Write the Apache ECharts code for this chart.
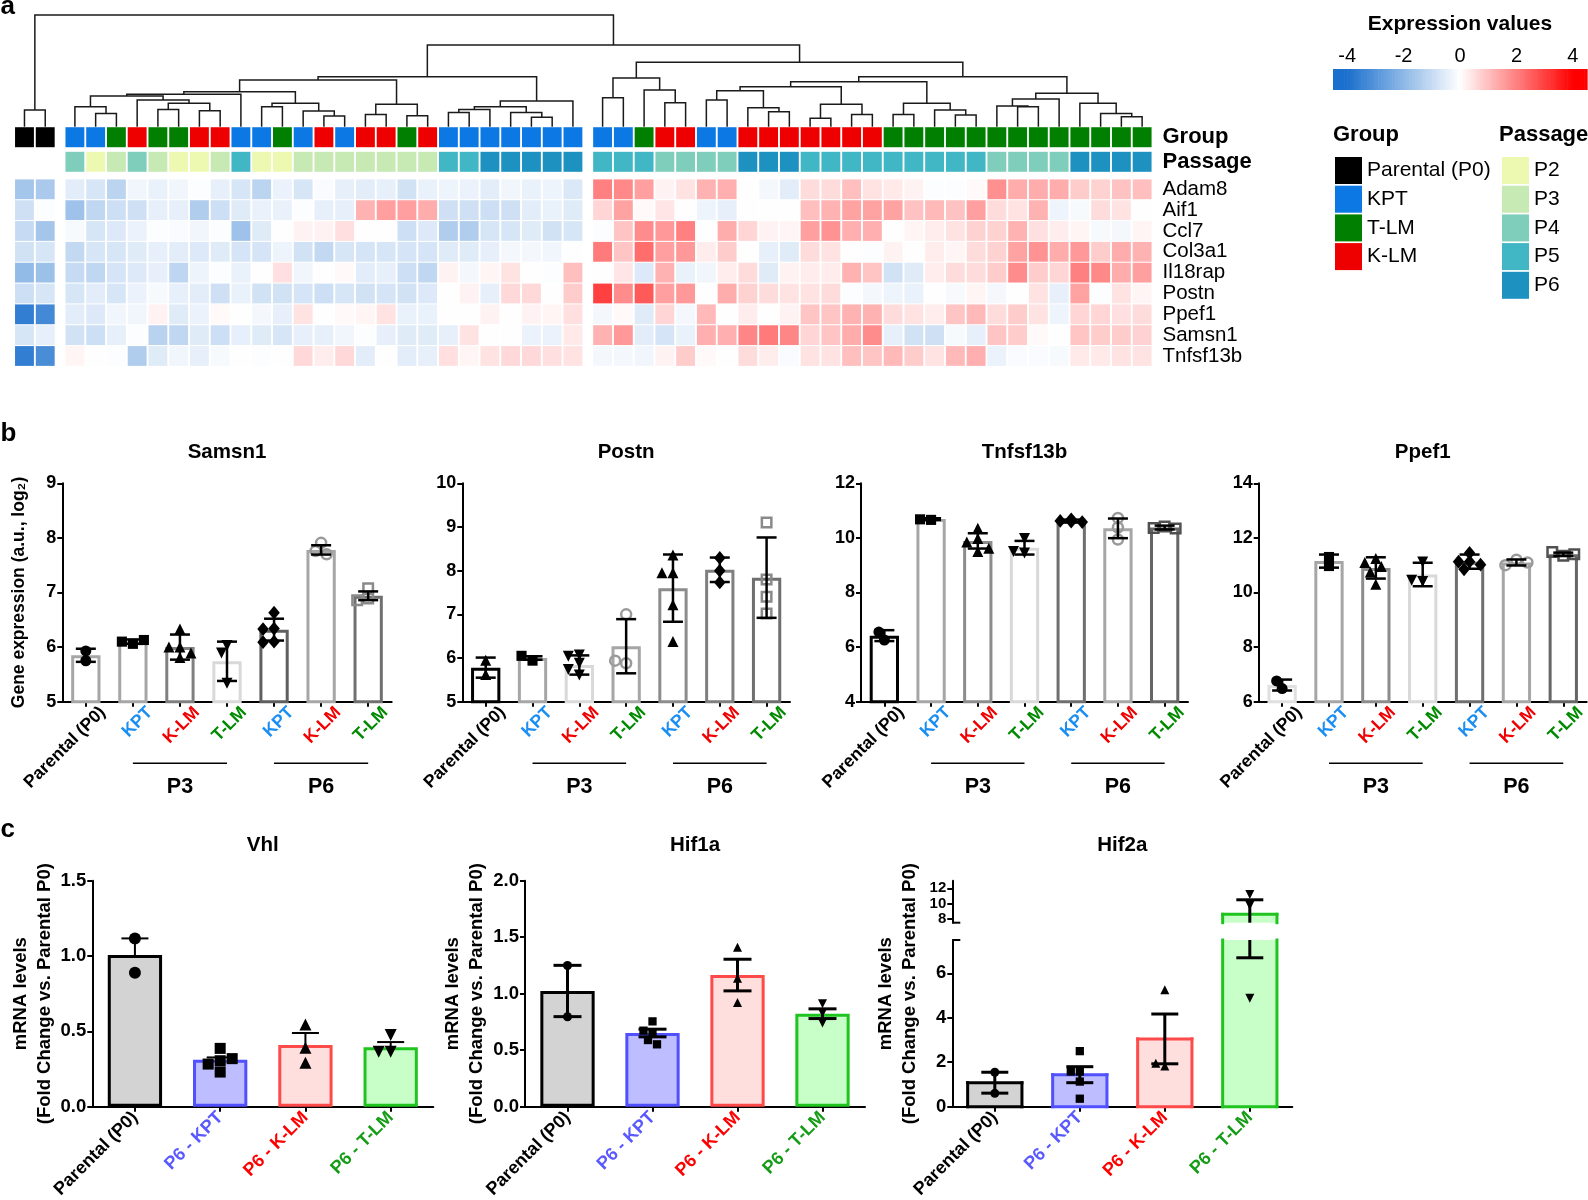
<!DOCTYPE html>
<html>
<head>
<meta charset="utf-8">
<title>Figure</title>
<script src="https://cdn.jsdelivr.net/npm/echarts@6.0.0/dist/echarts.min.js"></script>
<style>
html,body{margin:0;padding:0;background:#fff;}
#chart{width:1588px;height:1200px;}
</style>
</head>
<body>
<div id="chart"></div>
<script>
// ================= DATA =================
// ---- panel a : heatmap ----
const genes = ['Adam8','Aif1','Ccl7','Col3a1','Il18rap','Postn','Ppef1','Samsn1','Tnfsf13b'];
const groupCodes = ['P0','KPT','TLM','KLM'];
const groupNames = ['Parental (P0)','KPT','T-LM','K-LM'];
const passageNames = ['P2','P3','P4','P5','P6'];
const colGroup = ['P0','P0',
 'KPT','KPT','TLM','KLM','TLM','TLM','KLM','KLM','KPT','KPT','TLM','KPT','KLM','KPT','KLM','KLM','TLM','KLM','KPT','KPT','KPT','KPT','KPT','KPT','KPT',
 'KPT','KPT','TLM','KLM','KLM','KPT','KPT','KLM','KLM','KLM','KLM','KLM','KLM','KLM',
 'TLM','TLM','TLM','TLM','TLM','TLM','TLM','TLM','TLM','TLM','TLM','TLM','TLM'];
const colPassage = ['','',
 'P4','P2','P3','P4','P3','P2','P2','P3','P5','P2','P2','P3','P3','P3','P3','P3','P3','P3','P5','P5','P6','P6','P6','P6','P6',
 'P5','P5','P5','P4','P4','P4','P4','P6','P6','P6','P5','P5','P5','P5','P5','P5','P5','P5','P5','P4','P4','P4','P4','P6','P6','P6','P6'];
const exprAdam8 = [-1.6,-1.5,
 -0.5,-0.7,-1.2,-0.25,-0.4,-0.25,-0.05,-0.45,-0.7,-1.2,-0.35,-0.7,-0.1,-0.45,-0.5,-0.45,-0.8,-0.4,-0.3,-0.35,-0.5,-0.25,-0.4,-0.3,-0.65,
 2.0,1.85,1.5,0.2,0.45,1.2,1.25,0.02,-0.2,-0.5,0.55,0.55,1.0,0.45,0.35,0.2,-0.05,-0.05,0.1,1.75,1.3,1.3,1.3,0.8,0.7,0.95,1.0];
const exprAif1 = [-0.85,-0.05,
 -1.7,-1.1,-0.9,-0.85,-0.45,-0.45,-1.4,-0.9,-0.55,-0.4,-0.4,-0.05,-0.45,-0.45,1.2,1.5,1.5,1.3,-0.85,-0.85,-0.9,-0.85,-0.5,-0.4,-0.55,
 0.65,1.45,0.1,0.4,0.02,-0.3,-0.45,-0.02,-0.02,-0.02,1.0,1.2,1.45,1.45,1.45,0.95,1.1,0.95,1.5,0.55,0.45,1.2,-0.3,-0.15,0.55,0.45,-0.02];
const exprCcl7 = [-1.0,-1.6,
 -0.15,-0.7,-0.6,-0.35,-0.05,-0.1,-0.25,-0.05,-1.7,-0.55,0.02,0.2,0.2,0.5,0.02,0.02,-0.9,-0.6,-1.4,-1.4,-0.7,-0.7,-0.55,-0.8,-0.7,
 -0.05,0.9,1.8,1.6,2.0,0.02,1.3,0.65,0.2,0.15,1.5,1.7,1.25,1.25,0.02,0.15,0.3,0.45,0.7,0.7,1.2,0.5,0.3,0.15,-0.15,-0.2,0.15];
const exprCol3a1 = [-0.8,-0.7,
 -1.05,-0.7,-0.7,-0.55,-0.45,-0.5,-0.6,-0.55,-0.75,-0.75,-0.3,-0.8,-1.05,-0.7,-0.75,-0.7,-0.75,-0.75,-0.55,-0.55,-0.45,-0.2,-0.2,-0.25,0.02,
 2.1,0.9,2.3,1.5,1.6,0.3,0.8,-0.02,-0.45,-0.55,0.55,0.45,-0.02,-0.05,0.2,0.02,0.3,0.15,0.55,0.7,1.45,1.7,1.3,1.6,0.8,1.3,1.2];
const exprIl18rap = [-1.9,-1.75,
 -1.0,-1.1,-0.75,-0.6,-0.45,-1.15,-0.3,-0.05,-0.4,0.02,0.5,-0.25,0.02,0.1,-0.5,-0.45,-0.9,-1.1,0.2,-0.2,0.15,0.45,0.02,-0.05,1.0,
 -0.02,0.4,-0.6,1.2,-0.4,-0.25,0.3,0.55,-0.55,0.2,0.3,0.3,1.2,0.9,-0.8,-0.55,0.3,0.55,0.55,0.8,1.8,0.8,0.65,2.0,1.85,1.3,1.5];
const exprPostn = [-0.9,-0.7,
 -0.7,-0.5,-0.7,-0.35,-0.15,-0.45,-0.5,-0.85,-0.4,-0.8,-0.8,-0.75,-0.9,-0.7,-0.8,-0.75,-0.8,-0.6,0.02,0.2,-0.45,0.6,0.6,0.02,0.8,
 3.0,1.8,2.6,1.5,1.6,0.02,1.3,0.7,0.55,0.45,0.45,0.55,-0.05,-0.2,-0.3,-0.4,0.02,-0.15,0.15,-0.2,0.02,0.45,-0.45,1.45,-0.05,0.45,0.15];
const exprPpef1 = [-3.6,-3.3,
 -0.5,-0.6,-0.25,-0.25,0.2,-0.55,-0.35,0.1,0.02,-0.2,-0.45,0.45,-0.02,0.1,0.15,0.45,-0.4,-0.4,-0.02,-0.02,0.2,-0.02,0.2,0.15,0.5,
 -0.2,0.1,-0.55,0.65,-0.2,1.1,0.02,0.3,0.02,0.2,0.9,0.9,1.2,1.2,0.55,0.45,0.3,0.9,1.1,0.55,0.8,0.45,-0.3,0.65,0.65,0.5,0.55];
const exprSamsn1 = [-0.7,-0.45,
 -0.8,-0.9,-0.45,-0.05,-1.25,-1.1,-0.55,-0.9,-0.45,-0.55,-0.7,-0.45,-0.45,-0.25,-0.05,-0.45,-0.55,-0.55,-0.45,0.45,-0.02,-0.02,-0.35,-0.35,0.35,
 1.2,1.6,-0.5,-0.75,-0.4,1.25,1.25,1.9,2.1,1.9,0.65,0.9,1.3,1.8,-0.45,-0.8,-0.85,-0.15,-0.45,0.9,0.8,0.1,-0.02,0.9,0.8,0.8,0.7];
const exprTnfsf13b = [-3.6,-3.2,
 0.15,-0.02,-0.05,-1.4,-0.55,-0.25,-0.45,-0.15,-0.02,-0.05,0.02,0.6,0.3,0.6,-0.5,-0.02,-0.5,-0.45,0.5,0.15,0.45,0.6,0.6,0.5,0.45,
 -0.2,-0.2,-0.25,0.2,0.8,0.1,0.02,0.55,0.3,-0.1,0.45,0.45,1.0,0.9,1.1,0.8,0.45,1.1,1.25,-0.35,-0.1,-0.1,-0.15,0.35,0.35,0.45,0.45];
const exprRows = [exprAdam8,exprAif1,exprCcl7,exprCol3a1,exprIl18rap,exprPostn,exprPpef1,exprSamsn1,exprTnfsf13b];
// dendrogram: [mergeHeight, left, right]; leaves = column index
const dendroTree = [10.0, [1.49,0,1], [7.31,
  [4.48,
    [4.18,
      [3.13,
        [2.90, [2.75, [1.79,2,[1.19,3,4]], [2.39,5,[2.09,[1.55,6,7],[1.43,8,9]]]], 10],
        [2.09, [1.79,11,12], [1.40,13,[0.96,14,15]]]],
      [2.00, [1.10,16,17], [0.99,18,19]]],
    [2.30, [1.79, [1.55,[1.28,20,21],22], [1.28,23,[0.84,24,25]]], 26]],
  [5.76,
    [4.36, [2.60,27,28], [3.28,29,[2.15,30,31]]],
    [4.48,
      [4.03,
        [3.58, [3.22,[2.39,32,33],[1.70,34,[1.34,35,36]]], [2.00,[0.75,37,38],[1.10,39,40]]],
        [2.09, [1.10,41,42], [1.49,43,[1.04,44,45]]]],
      [2.99,
        [2.48, [1.85,46,[1.79,47,48]], 49],
        [2.09, 50, [1.19,51,[0.90,52,53]]]]]]]];
const colorbarTicks = [-4,-2,0,2,4];

// ---- panel b ----
const bCategories = ['P0','KPT3','KLM3','TLM3','KPT6','KLM6','TLM6'];
const bCategoryLabels = ['Parental (P0)','KPT','K-LM','T-LM','KPT','K-LM','T-LM'];
const bBrackets = [[1,3,'P3'],[4,6,'P6']];
const samsn1Mean = [5.85,6.10,6.00,5.74,6.32,7.78,6.94];
const samsn1Err  = [0.12,0.04,0.23,0.36,0.20,0.085,0.08];
const samsn1Points = [[5.75,5.93],[6.06,6.10,6.13],[6.33,6.00,6.00,5.89,5.81],[6.03,5.89,5.34],[6.63,6.34,6.33,6.10,6.09],[7.91,7.76,7.70],[6.89,6.86,7.08]];
const postnMean = [5.78,6.00,5.84,6.27,7.60,8.02,7.84];
const postnErr  = [0.23,0.04,0.22,0.62,0.77,0.28,0.92];
const postnPoints = [[5.95,5.62],[5.94,6.05],[6.07,6.04,5.88,5.74,5.61],[7.00,5.88,5.94],[8.36,7.95,7.95,7.22,6.38],[8.29,8.00,7.73],[9.10,7.80,7.40,7.02]];
const tnfsf13bMean = [6.42,10.69,9.89,9.64,10.62,10.35,10.38];
const tnfsf13bErr  = [0.20,0.03,0.28,0.25,0.05,0.36,0.07];
const tnfsf13bPoints = [[6.26,6.55],[10.66,10.68],[10.35,9.98,9.85,9.50,9.62],[9.98,9.45,9.50],[10.68,10.62,10.58,10.65,10.60],[10.73,10.38,9.94],[10.42,10.36,10.34]];
const ppef1Mean = [6.61,11.15,10.90,10.66,11.13,11.10,11.40];
const ppef1Err  = [0.20,0.24,0.39,0.43,0.26,0.11,0.06];
const ppef1Points = [[6.48,6.76],[10.97,11.30],[11.25,11.10,10.95,10.75,10.30],[11.12,10.40,10.45],[11.45,11.13,11.13,10.85,11.02],[11.20,11.00,11.10],[11.35,11.48,11.40]];

// ---- panel c ----
const cCategories = ['P0','KPT','KLM','TLM'];
const cCategoryLabels = ['Parental (P0)','P6 - KPT','P6 - K-LM','P6 - T-LM'];
const vhlMean = [1.007,0.312,0.409,0.394];
const vhlErr  = [0.110,0.015,0.080,0.035];
const vhlPoints = [[1.117,0.889],[0.305,0.387,0.230,0.283,0.319],[0.546,0.392,0.292],[0.476,0.365,0.365]];
const hif1aMean = [1.024,0.652,1.165,0.823];
const hif1aErr  = [0.227,0.034,0.140,0.043];
const hif1aPoints = [[1.25,0.796],[0.755,0.649,0.673,0.590,0.552],[1.41,1.136,0.923],[0.91,0.74,0.83]];
const hif2aMean = [1.08,1.44,3.05,8.60];
const hif2aErr  = [0.47,0.36,1.12,1.90];
const hif2aPoints = [[1.55,0.60],[2.50,1.58,1.58,1.13,0.36],[5.26,1.83,1.95],[11.18,9.74,4.88]];
const hif2aBreak = 7.5;

// ================= LAYOUT / STYLE =================
const FONT = "'Liberation Sans', Arial, Helvetica, sans-serif";
const chart = echarts.init(document.getElementById('chart'), null, {renderer:'canvas', width:1588, height:1200});
const option = {animation:false, backgroundColor:'#ffffff', textStyle:{fontFamily:FONT, color:'#000'},
  grid:[], xAxis:[], yAxis:[], series:[], legend:[], visualMap:[]};
const graphics = [];
function txt(x, y, text, size, bold, align, color){
  graphics.push({type:'text', x:x, y:y, silent:true, z:10, style:{text:text, fontSize:size, fontWeight:bold?'bold':'normal',
    fontFamily:FONT, fill:color||'#000', textAlign:align||'center', textVerticalAlign:'middle'}});
}
function addGrid(g){ option.grid.push(Object.assign({outerBoundsMode:'none', containLabel:false, show:false}, g)); return option.grid.length-1; }
function addX(a){ option.xAxis.push(a); return option.xAxis.length-1; }
function addY(a){ option.yAxis.push(a); return option.yAxis.length-1; }

const groupColor = {P0:'#000000', KPT:'#0b78e3', TLM:'#007f00', KLM:'#ee0000'};
const passageColor = {P2:'#edf8b1', P3:'#c7e9b4', P4:'#7fcdbb', P5:'#41b6c4', P6:'#1d91c0'};

// ---------- panel a ----------
const GAP = 0.43;
const colPos = i => i + (i >= 2 ? GAP : 0) + (i >= 27 ? GAP : 0);
const X_MIN = -0.5, X_MAX = colPos(53) + 0.5;
const HM_LEFT = 14.1, HM_WIDTH = 1138.4;
const ROW_GROUP = -2.5, ROW_PASSAGE = -1.32;

const gDen = addGrid({left:HM_LEFT, top:15, width:HM_WIDTH, height:111.7});
const xDen = addX({type:'value', gridIndex:gDen, min:X_MIN, max:X_MAX, show:false});
const yDen = addY({type:'value', gridIndex:gDen, min:0, max:10, show:false});

const gHeat = addGrid({left:HM_LEFT, top:126.8, width:HM_WIDTH, height:239.6});
const xHeat = addX({type:'value', gridIndex:gHeat, min:X_MIN, max:X_MAX, show:false});
const heatLabelMap = {};
heatLabelMap[ROW_GROUP] = '{h|Group}';
heatLabelMap[ROW_PASSAGE] = '{h|Passage}';
genes.forEach((g,i)=>{ heatLabelMap[i] = '{g|' + g + '}'; });
const yHeat = addY({type:'value', gridIndex:gHeat, min:-3, max:8.5, inverse:true, position:'right',
  axisLine:{show:false}, axisTick:{show:false}, splitLine:{show:false},
  axisLabel:{show:true, margin:10, hideOverlap:false, customValues:[ROW_GROUP, ROW_PASSAGE].concat(genes.map((g,i)=>i)),
    formatter: v => heatLabelMap[v] || '',
    rich:{h:{fontSize:22, fontWeight:'bold', color:'#000', fontFamily:FONT}, g:{fontSize:20.5, color:'#000', fontFamily:FONT}}}});

function cellRender(wr, hr){
  return function(params, api){
    const c = api.coord([api.value(0), api.value(1)]);
    const s = api.size([1,1]);
    const w = s[0]*wr, h = s[1]*hr;
    return {type:'rect', shape:{x:c[0]-w/2, y:c[1]-h/2, width:w, height:h}, style:{fill:api.visual('color')}};
  };
}
const heatData = [];
exprRows.forEach((row, r) => row.forEach((v, i) => heatData.push([colPos(i), r, v])));
const heatSeriesIndex = option.series.length;
option.series.push({type:'custom', name:'expression', coordinateSystem:'cartesian2d', xAxisIndex:xHeat, yAxisIndex:yHeat,
  silent:true, encode:{x:0, y:1}, data:heatData, renderItem:cellRender(0.91,0.95)});

groupCodes.forEach((code, k) => {
  const data = [];
  colGroup.forEach((g, i) => { if (g === code) data.push([colPos(i), ROW_GROUP]); });
  option.series.push({type:'custom', name:groupNames[k], coordinateSystem:'cartesian2d', xAxisIndex:xHeat, yAxisIndex:yHeat,
    silent:true, encode:{x:0, y:1}, itemStyle:{color:groupColor[code]}, data:data, renderItem:cellRender(0.91,0.96)});
});
passageNames.forEach(p => {
  const data = [];
  colPassage.forEach((q, i) => { if (q === p) data.push([colPos(i), ROW_PASSAGE]); });
  option.series.push({type:'custom', name:p, coordinateSystem:'cartesian2d', xAxisIndex:xHeat, yAxisIndex:yHeat,
    silent:true, encode:{x:0, y:1}, itemStyle:{color:passageColor[p]}, data:data, renderItem:cellRender(0.91,0.96)});
});

// dendrogram
const dendroSegs = [];
function layoutTree(node){
  if (typeof node === 'number') return [colPos(node), 0];
  const A = layoutTree(node[1]), B = layoutTree(node[2]);
  dendroSegs.push([A[0], A[1], B[0], B[1], node[0]]);
  return [(A[0]+B[0])/2, node[0]];
}
layoutTree(dendroTree);
option.series.push({type:'custom', coordinateSystem:'cartesian2d', xAxisIndex:xDen, yAxisIndex:yDen, silent:true,
  data:dendroSegs, renderItem:function(params, api){
    const p1 = api.coord([api.value(0), api.value(1)]);
    const p2 = api.coord([api.value(0), api.value(4)]);
    const p3 = api.coord([api.value(2), api.value(4)]);
    const p4 = api.coord([api.value(2), api.value(3)]);
    return {type:'polyline', shape:{points:[p1,p2,p3,p4]}, style:{stroke:'#1a1a1a', lineWidth:1.5, fill:'none'}};
  }});

// colour bar
const gBar = addGrid({left:1333, top:69, width:254, height:21});
const xBar = addX({type:'value', gridIndex:gBar, min:-4.5, max:4.5, position:'top',
  axisLine:{show:false}, axisTick:{show:false}, splitLine:{show:false},
  axisLabel:{show:true, customValues:colorbarTicks, margin:3, fontSize:20, color:'#000', fontFamily:FONT}});
const yBar = addY({type:'value', gridIndex:gBar, min:0, max:1, show:false});
const stripes = [];
for (let k = 0; k < 90; k++){ const v = -4.5 + 0.1*k + 0.05; stripes.push([v, 0.5, v]); }
const barSeriesIndex = option.series.length;
option.series.push({type:'custom', coordinateSystem:'cartesian2d', xAxisIndex:xBar, yAxisIndex:yBar, silent:true,
  data:stripes, renderItem:function(params, api){
    const c = api.coord([api.value(0), api.value(1)]);
    const s = api.size([0.1, 1]);
    return {type:'rect', shape:{x:c[0]-s[0]/2, y:c[1]-s[1]/2, width:s[0]+0.6, height:s[1]}, style:{fill:api.visual('color')}};
  }});

const BLUE = [27,112,205], RED = [255,0,0];
function scaleColor(v){
  const t = Math.min(1, Math.abs(v)/4), c = v < 0 ? BLUE : RED;
  const m = j => Math.round(255 + (c[j]-255)*t);
  return 'rgb(' + m(0) + ',' + m(1) + ',' + m(2) + ')';
}
const colorStops = [];
for (let k = 0; k <= 18; k++) colorStops.push(scaleColor(-4.5 + 0.5*k));
option.visualMap.push({type:'continuous', show:false, seriesIndex:[heatSeriesIndex, barSeriesIndex], dimension:2,
  min:-4.5, max:4.5, inRange:{color:colorStops}});

option.legend.push({data:groupNames, orient:'vertical', left:1335, top:157, itemWidth:27, itemHeight:27, itemGap:1.7,
  icon:'rect', selectedMode:false, padding:0, itemStyle:{borderWidth:0}, textStyle:{fontSize:21, color:'#000', fontFamily:FONT}});
option.legend.push({data:passageNames, orient:'vertical', left:1502, top:157, itemWidth:27, itemHeight:27, itemGap:1.7,
  icon:'rect', selectedMode:false, padding:0, itemStyle:{borderWidth:0}, textStyle:{fontSize:21, color:'#000', fontFamily:FONT}});

txt(0.5, 7, 'a', 26, true, 'left');
txt(1460, 24, 'Expression values', 21, true, 'center');
txt(1333, 135, 'Group', 22, true, 'left');
txt(1499, 135, 'Passage', 22, true, 'left');

// ---------- bar panels ----------
function markStyle(m, size){
  const black = {color:'#000', opacity:1, borderWidth:0};
  const open = col => ({color:'rgba(255,255,255,0)', borderColor:col, borderWidth:2.5, opacity:1});
  switch(m){
    case 'c': return {symbol:'circle', symbolSize:size, itemStyle:black};
    case 's': return {symbol:'rect', symbolSize:size*0.92, itemStyle:black};
    case 't': return {symbol:'triangle', symbolSize:size, itemStyle:black};
    case 'v': return {symbol:'triangle', symbolRotate:180, symbolSize:size, itemStyle:black};
    case 'd': return {symbol:'diamond', symbolSize:[size*1.05, size*1.25], itemStyle:black};
    case 'oc': return {symbol:'circle', symbolSize:size-1, itemStyle:open('#9a9a9a')};
    case 'os': return {symbol:'rect', symbolSize:size-1.5, itemStyle:open('#8a8a8a')};
    case 'ods': return {symbol:'rect', symbolSize:size-1.5, itemStyle:open('#505050')};
  }
}
function swarm(values, pxPerUnit, size){
  const placed = [], out = [];
  const cands = [0, -0.5, 0.5, -1.0, 1.0, -1.5, 1.5];
  values.forEach(v => {
    const yp = v*pxPerUnit; let dx = 0;
    for (const c of cands){
      const xp = c*size;
      if (placed.every(p => Math.hypot(p[0]-xp, p[1]-yp) >= size*0.75)){ dx = xp; break; }
    }
    placed.push([dx, yp]); out.push(dx);
  });
  return out;
}
function errRender(cap, lw, twoSided, yMin, yMax){
  return function(params, api){
    const x = api.value(0), m = api.value(1), e = api.value(2);
    const hi = m + e, lo = twoSided ? m - e : m;
    const a = Math.max(lo, yMin), b = Math.min(hi, yMax);
    const st = {stroke:'#000', lineWidth:lw};
    const children = [];
    if (b > a){
      const p = api.coord([x, a]), q = api.coord([x, b]);
      children.push({type:'line', shape:{x1:p[0], y1:p[1], x2:q[0], y2:q[1]}, style:st});
    }
    (twoSided ? [hi, lo] : [hi]).forEach(v => {
      if (v >= yMin && v <= yMax){
        const c = api.coord([x, v]);
        children.push({type:'line', shape:{x1:c[0]-cap/2, y1:c[1], x2:c[0]+cap/2, y2:c[1]}, style:st});
      }
    });
    return {type:'group', children:children};
  };
}
// bar drawn piecewise for a broken axis: edges lying on the break are left open
function brokenBarRender(widthPx, fills, borders, bw, yMin, yMax){
  return function(params, api){
    const i = api.value(0), m = api.value(1);
    if (!(m > yMin)) return null;
    const lo = Math.max(0, yMin), hi = Math.min(m, yMax);
    const pLo = api.coord([i, lo]), pHi = api.coord([i, hi]);
    const x0 = pLo[0] - widthPx/2, x1 = pLo[0] + widthPx/2, yb = pLo[1], yt = pHi[1];
    const st = {stroke:borders[i], lineWidth:bw, lineCap:'square'};
    const ch = [{type:'rect', shape:{x:x0, y:yt, width:widthPx, height:yb-yt}, style:{fill:fills[i]}},
      {type:'line', shape:{x1:x0, y1:yb, x2:x0, y2:yt}, style:st},
      {type:'line', shape:{x1:x1, y1:yb, x2:x1, y2:yt}, style:st}];
    if (m <= yMax) ch.push({type:'line', shape:{x1:x0, y1:yt, x2:x1, y2:yt}, style:st});
    if (0 >= yMin) ch.push({type:'line', shape:{x1:x0, y1:yb, x2:x1, y2:yb}, style:st});
    return {type:'group', children:ch};
  };
}
// short inward foot marking an axis break, drawn at the axis position
function breakFootRender(params, api){
  const c = api.coord([api.value(0), api.value(1)]);
  return {type:'line', shape:{x1:c[0], y1:c[1], x2:c[0]+8, y2:c[1]}, style:{stroke:'#000', lineWidth:2}};
}
function addPanel(s){
  const n = s.cats.length;
  const gi = addGrid({left:s.left, top:s.top, width:s.width, height:s.height});
  const shifted = !!s.labelShiftPx;
  const labelCfg = {interval:0, rotate:45, margin:8, fontSize:s.xFont, fontWeight:'bold', fontFamily:FONT, rich:s.xRich};
  const xc = addX({type:'category', gridIndex:gi, data:s.cats, boundaryGap:true, show:s.showX, position:'bottom',
    axisLine:{show:s.showX, onZero:false, lineStyle:{color:'#000', width:2}},
    axisTick:{show:s.showX, alignWithLabel:true, length:5, lineStyle:{color:'#000', width:2}},
    axisLabel:Object.assign({show:s.showX && !shifted, formatter:s.xFormatter}, labelCfg),
    splitLine:{show:false}});
  // value axis on the same scale as the categories: points, error bars and offset labels
  const shift = shifted ? s.labelShiftPx / (s.width / n) : 0;
  const xv = addX({type:'value', gridIndex:gi, min:-0.5, max:n-0.5, show:s.showX && shifted, position:'bottom',
    axisLine:{show:false, onZero:false}, axisTick:{show:false}, splitLine:{show:false},
    axisLabel:Object.assign({show:s.showX && shifted, hideOverlap:false, showMinLabel:true, showMaxLabel:true,
      customValues:s.cats.map((c,i) => i + shift),
      formatter:v => s.xFormatter(s.cats[Math.round(v - shift)])}, labelCfg)});
  const yAxis = {type:'value', gridIndex:gi, min:s.min, max:s.max, position:'left',
    axisLine:{show:true, onZero:false, lineStyle:{color:'#000', width:2}},
    axisTick:{show:true, length:5, lineStyle:{color:'#000', width:2}},
    axisLabel:{show:true, margin:6, fontSize:s.yFont, fontWeight:'bold', color:'#000', fontFamily:FONT,
      hideOverlap:false},
    splitLine:{show:false}};
  if (s.yLineHeight) yAxis.axisLabel.lineHeight = s.yLineHeight;
  if (s.yFormatter) yAxis.axisLabel.formatter = s.yFormatter;
  if (s.interval) yAxis.interval = s.interval;
  if (s.ticks){ yAxis.axisLabel.customValues = s.ticks; yAxis.axisTick.customValues = s.ticks; }
  if (s.yName){
    Object.assign(yAxis, {name:s.yName, nameLocation:'middle', nameGap:s.nameGap,
      nameTextStyle:{fontSize:s.nameFont, fontWeight:'bold', color:'#000', lineHeight:24, fontFamily:FONT}});
  }
  const yi = addY(yAxis);
  if (s.breakAt !== undefined){
    option.series.push({type:'custom', coordinateSystem:'cartesian2d', xAxisIndex:xv, yAxisIndex:yi, silent:true, z:5,
      data:[[-0.5, s.breakAt]], renderItem:breakFootRender});
    option.series.push({type:'custom', coordinateSystem:'cartesian2d', xAxisIndex:xv, yAxisIndex:yi, silent:true, z:2,
      data:s.mean.map((m,i) => [i, m]), renderItem:brokenBarRender(s.barWidth, s.fill, s.border, 3, s.min, s.max)});
  } else {
    option.series.push({type:'bar', xAxisIndex:xc, yAxisIndex:yi, barWidth:s.barWidth, clip:true, silent:true, z:2,
      data:s.mean.map((m,i) => ({value:m, itemStyle:{color:s.fill[i], borderColor:s.border[i], borderWidth:3}}))});
  }
  const pxPerUnit = s.height/(s.max - s.min), pxPerCat = s.width/n;
  const pts = [];
  s.pts.forEach((arr, i) => {
    const dxs = swarm(arr, pxPerUnit, s.sym);
    arr.forEach((v, j) => {
      if (v < s.min || v > s.max) return;
      pts.push(Object.assign({value:[i + dxs[j]/pxPerCat, v]}, markStyle(s.marks[i], s.sym)));
    });
  });
  option.series.push({type:'scatter', xAxisIndex:xv, yAxisIndex:yi, silent:true, z:3, data:pts});
  option.series.push({type:'custom', coordinateSystem:'cartesian2d', xAxisIndex:xv, yAxisIndex:yi, silent:true, z:4,
    data:s.mean.map((m,i) => [i, m, s.err[i]]), renderItem:errRender(s.cap, s.lw, s.twoSided, s.min, s.max)});
  return {gi:gi, xc:xc, xv:xv, yi:yi};
}

// ---------- panel b ----------
const bCodeLabel = {P0:'{k|Parental (P0)}', KPT3:'{kpt|KPT}', KLM3:'{klm|K-LM}', TLM3:'{tlm|T-LM}',
  KPT6:'{kpt|KPT}', KLM6:'{klm|K-LM}', TLM6:'{tlm|T-LM}'};
const rs = c => ({color:c, fontSize:17.5, fontWeight:'bold', fontFamily:FONT});
const bRich = {k:rs('#000'), kpt:rs('#1b8ef2'), klm:rs('#f00000'), tlm:rs('#008a00')};
const bSpecs = [
  {title:'Samsn1', left:62.3, width:329.4, min:5, max:9, interval:1, mean:samsn1Mean, err:samsn1Err, pts:samsn1Points,
   border:['#a6a6a6','#a6a6a6','#808080','#d9d9d9','#5f5f5f','#a6a6a6','#707070'], marks:['c','s','t','v','d','oc','os'],
   yName:'Gene expression (a.u., log\u2082)', nameGap:31, nameFont:17.5},
  {title:'Postn', left:462.3, width:327.7, min:5, max:10, interval:1, mean:postnMean, err:postnErr, pts:postnPoints,
   border:['#000000','#a6a6a6','#d9d9d9','#a6a6a6','#8c8c8c','#7f7f7f','#6f6f6f'], marks:['t','s','v','oc','t','d','os']},
  {title:'Tnfsf13b', left:861, width:327, min:4, max:12, interval:2, mean:tnfsf13bMean, err:tnfsf13bErr, pts:tnfsf13bPoints,
   border:['#000000','#a6a6a6','#8c8c8c','#d9d9d9','#6f6f6f','#a6a6a6','#666666'], marks:['c','s','t','v','d','oc','ods']},
  {title:'Ppef1', left:1258.7, width:328, min:6, max:14, interval:2, mean:ppef1Mean, err:ppef1Err, pts:ppef1Points,
   border:['#e0e0e0','#a6a6a6','#8c8c8c','#d9d9d9','#6f6f6f','#a6a6a6','#666666'], marks:['c','s','t','v','d','oc','ods']}
];
const bPanels = bSpecs.map(s => {
  const p = addPanel(Object.assign({top:483.3, height:218.4, cats:bCategories, showX:true, xFont:17.5, yFont:18,
    xFormatter:v => bCodeLabel[v], xRich:bRich, barWidth:29.3, fill:bCategories.map(()=>'#ffffff'),
    sym:11, cap:20, lw:2.5, twoSided:true, labelShiftPx:17}, s));
  txt(s.left + s.width/2, 452, s.title, 20.5, true, 'center');
  return p;
});
txt(0.5, 434, 'b', 26, true, 'left');

// ---------- panel c ----------
const cCodeLabel = {P0:'{k|Parental (P0)}', KPT:'{kpt|P6 - KPT}', KLM:'{klm|P6 - K-LM}', TLM:'{tlm|P6 - T-LM}'};
const rc = c => ({color:c, fontSize:18, fontWeight:'bold', fontFamily:FONT});
const cRich = {k:rc('#000'), kpt:rc('#5959ff'), klm:rc('#ff0000'), tlm:rc('#169c16')};
const cFill = ['#d3d3d3','#bdbdff','#ffdede','#c8ffc8'];
const cBorder = ['#000000','#5050ff','#ff4a4a','#1fc41f'];
const cMarks = ['c','s','t','v'];
const cName = 'mRNA levels\n(Fold Change vs. Parental P0)';
const cBase = {cats:cCategories, xFont:18, yFont:18.5, xFormatter:v => cCodeLabel[v], xRich:cRich, barWidth:54.3,
  fill:cFill, border:cBorder, marks:cMarks, nameFont:18.5};
addPanel(Object.assign({}, cBase, {left:92.3, width:341, top:880.7, height:226, min:0, max:1.5, interval:0.5,
  yFormatter:v => v.toFixed(1), mean:vhlMean, err:vhlErr, pts:vhlPoints, showX:true, sym:12, cap:27, lw:2,
  twoSided:false, yName:cName, nameGap:34}));
txt(262.8, 845.5, 'Vhl', 20.5, true, 'center');
addPanel(Object.assign({}, cBase, {left:525, width:340, top:880.7, height:226, min:0, max:2, interval:0.5,
  yFormatter:v => v.toFixed(1), mean:hif1aMean, err:hif1aErr, pts:hif1aPoints, showX:true, sym:9, cap:28, lw:3,
  twoSided:true, yName:cName, nameGap:35}));
txt(695, 845.5, 'Hif1a', 20.5, true, 'center');
// Hif2a: broken axis -> lower and upper segments
addPanel(Object.assign({}, cBase, {left:952.3, width:340, top:940, height:166.7, min:0, max:hif2aBreak, ticks:[0,2,4,6],
  breakAt:hif2aBreak, mean:hif2aMean, err:hif2aErr, pts:hif2aPoints, showX:true, sym:9, cap:27, lw:3, twoSided:true}));
addPanel(Object.assign({}, cBase, {left:952.3, width:340, top:880.7, height:42, min:hif2aBreak, max:13, ticks:[8,10,12],
  yFont:15, yLineHeight:13, breakAt:hif2aBreak,
  mean:hif2aMean, err:hif2aErr, pts:hif2aPoints, showX:false, sym:9, cap:27, lw:3, twoSided:true}));
// axis name spanning both Hif2a segments
const gHifName = addGrid({left:952.3, top:880.7, width:340, height:226});
addX({type:'value', gridIndex:gHifName, min:0, max:1, show:false});
addY({type:'value', gridIndex:gHifName, min:0, max:1, axisLine:{show:false}, axisTick:{show:false}, axisLabel:{show:false},
  splitLine:{show:false}, name:cName, nameLocation:'middle', nameGap:30,
  nameTextStyle:{fontSize:18.5, fontWeight:'bold', color:'#000', lineHeight:24, fontFamily:FONT}});
txt(1122.3, 845.5, 'Hif2a', 20.5, true, 'center');
txt(0.5, 830, 'c', 26, true, 'left');

chart.setOption(option);

// passage brackets under panel b, positioned through the axes
bPanels.forEach(p => {
  bBrackets.forEach(([a, b, t]) => {
    const xa = chart.convertToPixel({xAxisIndex:p.xv}, a);
    const xb = chart.convertToPixel({xAxisIndex:p.xv}, b);
    graphics.push({type:'line', silent:true, shape:{x1:xa, y1:763.3, x2:xb, y2:763.3}, style:{stroke:'#000', lineWidth:1.5}});
    txt((xa + xb)/2, 786.7, t, 21.5, true, 'center');
  });
});
chart.setOption({graphic:graphics});
</script>
</body>
</html>
